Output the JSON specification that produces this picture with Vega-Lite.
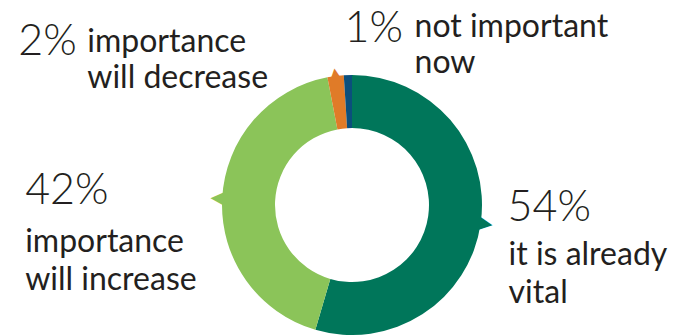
{
  "$schema": "https://vega.github.io/schema/vega-lite/v6.json",
  "width": 668,
  "height": 260,
  "autosize": "none",
  "padding": {"left": 18, "top": 75, "right": 0, "bottom": 0},
  "background": "white",
  "view": {"stroke": null},
  "data": {"values": [
    {"cat": "vital", "value": 54, "pct": "54%", "desc": ["it is already", "vital"]},
    {"cat": "increase", "value": 42, "pct": "42%", "desc": ["importance", "will increase"]},
    {"cat": "decrease", "value": 2, "pct": "2%", "desc": ["importance", "will decrease"]},
    {"cat": "notnow", "value": 1, "pct": "1%", "desc": ["not important", "now"]}
  ]},
  "encoding": {
    "theta": {"field": "value", "type": "quantitative", "stack": true},
    "order": {"field": "value", "type": "quantitative", "sort": "descending"},
    "detail": {"field": "cat", "type": "nominal"}
  },
  "layer": [
    {
      "mark": {"type": "arc", "innerRadius": 77, "outerRadius": 130},
      "encoding": {
        "color": {"field": "cat", "type": "nominal", "legend": null,
          "scale": {"domain": ["vital", "increase", "decrease", "notnow"], "range": ["#00765A", "#8BC459", "#E07B28", "#0B4F7C"]}}
      }
    },
    {
      "mark": {"type": "text", "radius": 133, "align": "center", "baseline": "middle", "font": "DejaVu Sans",
        "angle": {"expr": "scale('theta', 0.5*datum.value_start + 0.5*datum.value_end)*180/PI"}},
      "encoding": {
        "color": {"field": "cat", "type": "nominal", "legend": null},
        "size": {"condition": {"test": "datum.cat === 'decrease'", "value": 15}, "value": 26},
        "text": {"condition": {"test": "datum.cat !== 'notnow'", "value": "▲"}, "value": ""}
      }
    },
    {
      "mark": {"type": "text", "radius": 140, "align": "left", "baseline": "alphabetic", "font": "Lato", "fontWeight": 300, "fontSize": 43, "color": "#231F20", "dx": 17, "dy": -4},
      "encoding": {"text": {"condition": {"test": "datum.cat === 'vital'", "field": "pct"}, "value": ""}}
    },
    {
      "mark": {"type": "text", "radius": 140, "align": "left", "baseline": "alphabetic", "font": "Lato", "fontSize": 32, "lineHeight": 38, "color": "#231F20", "dx": 18, "dy": 40},
      "encoding": {"text": {"condition": {"test": "datum.cat === 'vital'", "field": "desc"}, "value": ""}}
    },
    {
      "mark": {"type": "text", "radius": 140, "align": "left", "baseline": "alphabetic", "font": "Lato", "fontWeight": 300, "fontSize": 43, "color": "#231F20", "dx": -187, "dy": 6},
      "encoding": {"text": {"condition": {"test": "datum.cat === 'increase'", "field": "pct"}, "value": ""}}
    },
    {
      "mark": {"type": "text", "radius": 140, "align": "left", "baseline": "alphabetic", "font": "Lato", "fontSize": 32, "lineHeight": 38, "color": "#231F20", "dx": -187, "dy": 54},
      "encoding": {"text": {"condition": {"test": "datum.cat === 'increase'", "field": "desc"}, "value": ""}}
    },
    {
      "mark": {"type": "text", "radius": 140, "align": "left", "baseline": "alphabetic", "font": "Lato", "fontWeight": 300, "fontSize": 43, "color": "#231F20", "dx": -316, "dy": -11},
      "encoding": {"text": {"condition": {"test": "datum.cat === 'decrease'", "field": "pct"}, "value": ""}}
    },
    {
      "mark": {"type": "text", "radius": 140, "align": "left", "baseline": "alphabetic", "font": "Lato", "fontSize": 32, "lineHeight": 36, "color": "#231F20", "dx": -247, "dy": -14},
      "encoding": {"text": {"condition": {"test": "datum.cat === 'decrease'", "field": "desc"}, "value": ""}}
    },
    {
      "mark": {"type": "text", "radius": 140, "align": "left", "baseline": "alphabetic", "font": "Lato", "fontWeight": 300, "fontSize": 43, "color": "#231F20", "dx": -3, "dy": -23},
      "encoding": {"text": {"condition": {"test": "datum.cat === 'notnow'", "field": "pct"}, "value": ""}}
    },
    {
      "mark": {"type": "text", "radius": 140, "align": "left", "baseline": "alphabetic", "font": "Lato", "fontSize": 32, "lineHeight": 36, "color": "#231F20", "dx": 67, "dy": -28},
      "encoding": {"text": {"condition": {"test": "datum.cat === 'notnow'", "field": "desc"}, "value": ""}}
    }
  ]
}
